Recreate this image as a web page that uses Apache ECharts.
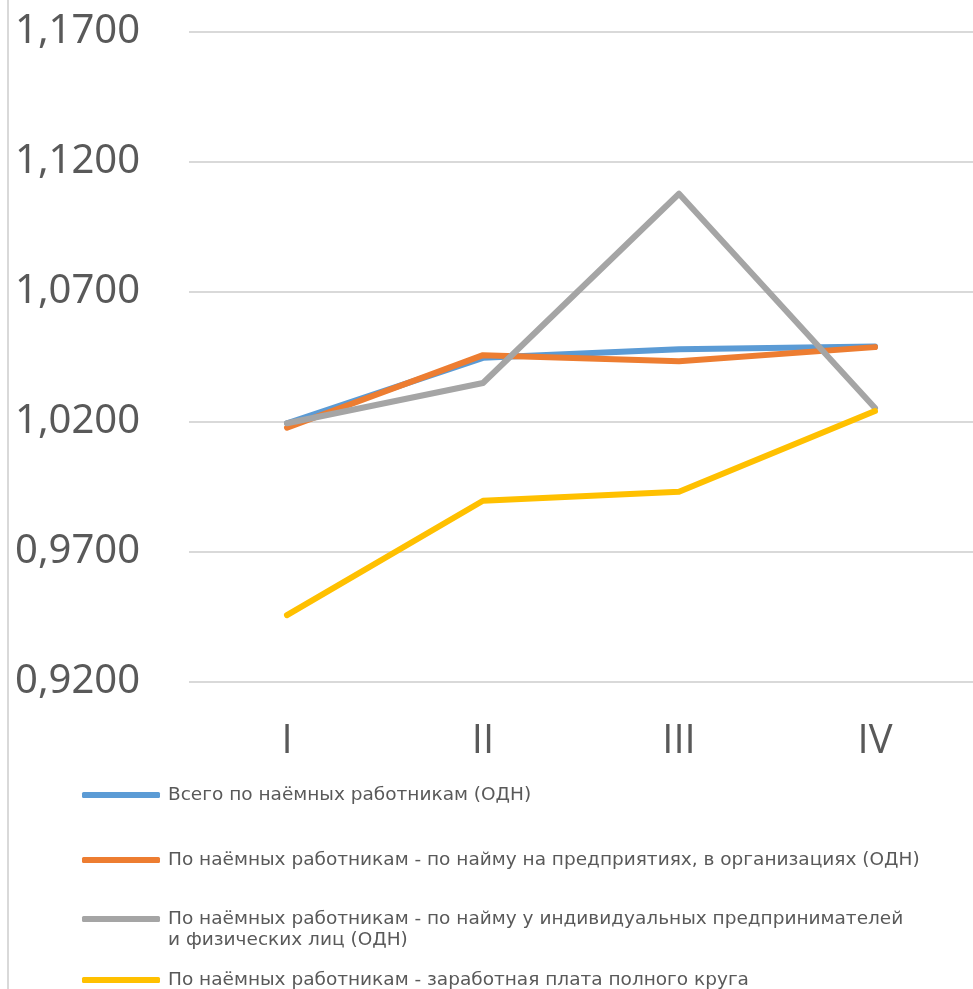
<!DOCTYPE html>
<html>
<head>
<meta charset="utf-8">
<script src="https://cdn.jsdelivr.net/npm/echarts@6/dist/echarts.min.js"></script>
<style>
html,body{margin:0;padding:0;background:#fff;}
#chart{width:973px;height:989px;}
</style>
</head>
<body>
<div id="chart"></div>
<script>
var categories = ['I', 'II', 'III', 'IV'];
var seriesNames = [
  'Всего по наёмных работникам (ОДН)',
  'По наёмных работникам - по найму на предприятиях, в организациях (ОДН)',
  'По наёмных работникам - по найму у индивидуальных предпринимателей',
  'По наёмных работникам - заработная плата полного круга'
];
var grayNameLine2 = 'и физических лиц (ОДН)';
var totalValues = [1.0195, 1.0447, 1.0480, 1.0490];
var enterpriseValues = [1.0178, 1.0457, 1.0434, 1.0488];
var individualValues = [1.0195, 1.0350, 1.1078, 1.0254];
var fullWageValues = [0.9457, 0.9897, 0.9932, 1.0242];
var yTicks = [0.92, 0.97, 1.02, 1.07, 1.12, 1.17];

var colors = ['#5B9BD5', '#ED7D31', '#A5A5A5', '#FFC000'];
var allValues = [totalValues, enterpriseValues, individualValues, fullWageValues];

var chart = echarts.init(document.getElementById('chart'));
var legendTops = [785, 850, 909, 970];
var legendFont = {color: '#595959', fontSize: 18.5, fontFamily: 'DejaVu Sans', lineHeight: 20, padding: [0, 0, 0, 3]};

var option = {
  backgroundColor: '#fff',
  animation: false,
  grid: {left: 189, right: 0, top: 32, height: 650},
  xAxis: {
    type: 'category',
    data: categories,
    boundaryGap: true,
    axisLine: {show: false},
    axisTick: {show: false},
    axisLabel: {color: '#595959', fontSize: 40, fontFamily: 'Open Sans', margin: 40}
  },
  yAxis: {
    type: 'value',
    min: yTicks[0],
    max: yTicks[yTicks.length - 1],
    interval: 0.05,
    axisLine: {show: false},
    axisTick: {show: false},
    splitLine: {lineStyle: {color: '#D9D9D9', width: 2}},
    axisLabel: {
      color: '#595959', fontSize: 40, fontFamily: 'Noto Sans', align: 'left', margin: 174,
      formatter: function (v) { return v.toFixed(4).replace('.', ','); }
    }
  },
  legend: seriesNames.map(function (n, i) {
    return {
      data: [n], left: 82, top: legendTops[i], padding: 0,
      itemWidth: 78, itemHeight: 6, icon: 'roundRect',
      textStyle: legendFont, selectedMode: false
    };
  }),
  graphic: [
    {type: 'line', shape: {x1: 8, y1: 0, x2: 8, y2: 989}, style: {stroke: '#D9D9D9', lineWidth: 2}},
    {type: 'text', left: 168, top: 931, style: {text: grayNameLine2, fill: '#595959', fontSize: 18.5, fontFamily: 'DejaVu Sans'}}
  ],
  series: seriesNames.map(function (n, i) {
    return {
      name: n, type: 'line', data: allValues[i],
      symbol: 'none', color: colors[i],
      lineStyle: {width: 6, color: colors[i], cap: 'round', join: 'round'}
    };
  })
};
chart.setOption(option);
</script>
</body>
</html>
